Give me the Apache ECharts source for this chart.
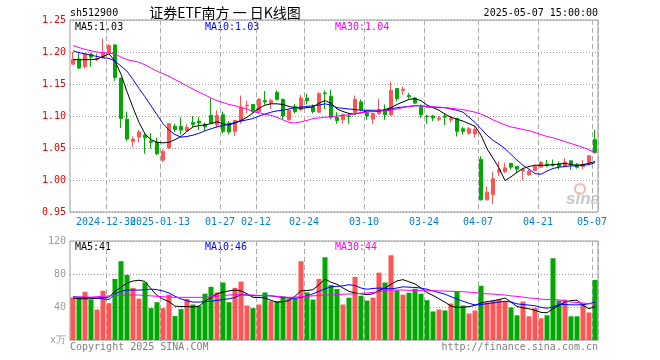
<!DOCTYPE html>
<html><head><meta charset="utf-8">
<script src="https://cdn.jsdelivr.net/npm/echarts@6/dist/echarts.min.js"></script>
<style>html,body{margin:0;padding:0;background:#fff}#c{width:660px;height:360px}</style>
</head><body><div id="c"></div>
<script>
const dates = ['2024-12-20','2024-12-23','2024-12-24','2024-12-25','2024-12-26','2024-12-27','2024-12-30','2024-12-31',
'2025-01-02','2025-01-03','2025-01-06','2025-01-07','2025-01-08','2025-01-09','2025-01-10','2025-01-13','2025-01-14','2025-01-15','2025-01-16','2025-01-17','2025-01-20','2025-01-21','2025-01-22','2025-01-23','2025-01-24','2025-01-27',
'2025-02-05','2025-02-06','2025-02-07','2025-02-10','2025-02-11','2025-02-12','2025-02-13','2025-02-14','2025-02-17','2025-02-18','2025-02-19','2025-02-20','2025-02-21','2025-02-24','2025-02-25','2025-02-26','2025-02-27','2025-02-28',
'2025-03-03','2025-03-04','2025-03-05','2025-03-06','2025-03-07','2025-03-10','2025-03-11','2025-03-12','2025-03-13','2025-03-14','2025-03-17','2025-03-18','2025-03-19','2025-03-20','2025-03-21','2025-03-24','2025-03-25','2025-03-26','2025-03-27','2025-03-28','2025-03-31',
'2025-04-01','2025-04-02','2025-04-03','2025-04-07','2025-04-08','2025-04-09','2025-04-10','2025-04-11','2025-04-14','2025-04-15','2025-04-16','2025-04-17','2025-04-18','2025-04-21','2025-04-22','2025-04-23','2025-04-24','2025-04-25','2025-04-28','2025-04-29','2025-04-30',
'2025-05-06','2025-05-07'];
const tickLabels = {'2024-12-30':'2024-12-30','2025-01-13':'2025-01-13','2025-01-27':'01-27','2025-02-12':'02-12','2025-02-24':'02-24','2025-03-10':'03-10','2025-03-24':'03-24','2025-04-07':'04-07','2025-04-21':'04-21','2025-05-07':'05-07'};
const opens = [1.181,1.189,1.177,1.197,1.188,1.191,1.199,1.211,1.159,1.095,
1.060,1.067,1.070,1.061,1.059,1.031,1.050,1.084,1.084,1.077,
1.090,1.092,1.087,1.101,1.086,1.102,1.089,1.076,1.092,1.116,
1.118,1.107,1.124,1.120,1.137,1.126,1.094,1.115,1.110,1.128,
1.114,1.106,1.136,1.131,1.098,1.094,1.100,1.105,1.122,1.105,
1.095,1.104,1.110,1.102,1.143,1.140,1.132,1.128,1.114,1.100,
1.100,1.095,1.100,1.094,1.096,1.080,1.073,1.072,1.032,0.969,
0.977,1.012,1.013,1.026,1.021,1.014,1.008,1.015,1.020,1.025,
1.0245,1.025,1.021,1.030,1.0245,1.021,1.027,1.063];
const closes = [1.188,1.175,1.197,1.192,1.190,1.199,1.210,1.160,1.096,1.064,
1.064,1.075,1.066,1.059,1.041,1.045,1.088,1.079,1.078,1.082,
1.087,1.089,1.083,1.089,1.101,1.076,1.075,1.093,1.114,1.117,
1.107,1.126,1.122,1.124,1.126,1.100,1.109,1.107,1.128,1.124,
1.107,1.135,1.135,1.098,1.093,1.102,1.099,1.126,1.110,1.100,
1.104,1.110,1.102,1.140,1.127,1.142,1.130,1.120,1.102,1.099,
1.097,1.097,1.098,1.096,1.076,1.076,1.080,1.079,0.969,0.981,
1.002,1.016,1.019,1.020,1.017,1.016,1.014,1.021,1.028,1.023,
1.023,1.021,1.028,1.0245,1.020,1.0245,1.038,1.043];
const lows = [1.180,1.173,1.174,1.177,1.186,1.190,1.197,1.155,1.081,1.061,
1.052,1.059,1.041,1.049,1.039,1.028,1.049,1.075,1.071,1.075,
1.083,1.078,1.077,1.088,1.082,1.073,1.071,1.069,1.088,1.104,
1.105,1.104,1.118,1.111,1.124,1.095,1.093,1.104,1.107,1.118,
1.104,1.105,1.111,1.095,1.088,1.088,1.088,1.102,1.107,1.094,
1.088,1.102,1.094,1.100,1.123,1.133,1.127,1.119,1.097,1.088,
1.092,1.092,1.086,1.090,1.068,1.071,1.071,1.066,0.968,0.968,
0.9625,1.006,1.011,1.016,1.011,1.000,1.007,1.0135,1.020,1.020,
1.021,1.017,1.020,1.016,1.018,1.017,1.025,1.041];
const highs = [1.200,1.200,1.198,1.198,1.198,1.221,1.212,1.212,1.160,1.107,
1.068,1.078,1.073,1.073,1.066,1.048,1.089,1.088,1.098,1.087,
1.100,1.098,1.090,1.128,1.109,1.107,1.092,1.094,1.132,1.124,
1.119,1.128,1.139,1.127,1.140,1.127,1.111,1.119,1.133,1.135,
1.118,1.137,1.140,1.141,1.106,1.104,1.104,1.132,1.126,1.107,
1.105,1.127,1.118,1.154,1.144,1.146,1.136,1.130,1.118,1.102,
1.102,1.100,1.104,1.100,1.097,1.083,1.083,1.084,1.037,0.990,
1.0125,1.029,1.027,1.026,1.022,1.019,1.016,1.024,1.029,1.031,
1.032,1.029,1.034,1.030,1.0265,1.031,1.0385,1.079];
const ma5 = [1.188,1.188,1.188,1.188,1.189,1.193,1.197,1.186,1.165,1.138,
1.113,1.090,1.072,1.063,1.059,1.058,1.059,1.063,1.068,1.076,
1.083,1.085,1.086,1.088,1.091,1.088,1.086,1.089,1.093,1.098,
1.105,1.112,1.117,1.119,1.119,1.118,1.115,1.113,1.112,1.113,
1.114,1.120,1.124,1.120,1.111,1.107,1.104,1.103,1.105,1.108,
1.107,1.107,1.110,1.113,1.118,1.122,1.126,1.127,1.124,1.117,
1.113,1.109,1.103,1.098,1.095,1.092,1.088,1.084,1.070,1.049,
1.034,1.019,0.999,1.005,1.012,1.018,1.021,1.023,1.023,1.023,
1.024,1.025,1.026,1.024,1.023,1.024,1.026,1.029];
const ma10 = [1.202,1.199,1.197,1.195,1.193,1.191,1.190,1.186,1.178,1.170,
1.157,1.143,1.130,1.116,1.102,1.088,1.078,1.071,1.067,1.068,
1.070,1.073,1.077,1.080,1.083,1.085,1.087,1.090,1.092,1.094,
1.096,1.100,1.103,1.106,1.108,1.109,1.111,1.113,1.114,1.115,
1.116,1.117,1.119,1.117,1.113,1.112,1.111,1.110,1.109,1.109,
1.109,1.109,1.109,1.111,1.113,1.114,1.115,1.116,1.116,1.114,
1.114,1.113,1.113,1.111,1.109,1.106,1.098,1.090,1.080,1.070,
1.062,1.056,1.049,1.040,1.031,1.023,1.017,1.010,1.009,1.014,
1.018,1.020,1.021,1.022,1.022,1.023,1.024,1.027];
const ma30 = [1.210,1.207,1.204,1.202,1.200,1.199,1.198,1.197,1.192,1.188,
1.186,1.184,1.180,1.175,1.170,1.166,1.162,1.157,1.152,1.147,
1.142,1.137,1.133,1.128,1.124,1.121,1.118,1.116,1.113,1.111,
1.107,1.105,1.103,1.101,1.098,1.094,1.090,1.089,1.091,1.093,
1.096,1.097,1.098,1.099,1.100,1.101,1.102,1.104,1.105,1.106,
1.107,1.108,1.108,1.109,1.111,1.113,1.115,1.116,1.116,1.115,
1.114,1.114,1.113,1.112,1.111,1.110,1.108,1.106,1.103,1.099,
1.094,1.090,1.086,1.083,1.081,1.079,1.077,1.074,1.071,1.068,
1.066,1.063,1.060,1.057,1.054,1.051,1.047,1.043];
const volumes = [51.7,51.7,58.5,49,37,59.7,44.6,74,95.5,78.8,
63.3,50.1,69.7,38.6,45.8,38.6,54.9,29,37.4,49.8,
43,41.4,56.1,64.5,57.7,69.7,45.8,63.3,70.8,41.8,
38.6,43,57.7,47,47,52.9,50.5,50.5,95.5,57.7,
49,74,100.3,66.5,61.7,43,51.3,76.4,53.7,47.8,
51.3,81.6,69.7,102.7,60.1,54.9,57.3,62.1,56.1,48.2,
34.6,37,35.8,44.2,58.9,41.8,32.2,35.8,65.7,45.4,
47.8,49,47,39.4,29.9,46.6,28.7,38.6,26.3,29.9,
99.1,47.8,49,28.7,28.7,44.2,33.4,72.8];
const volMa5 = [51,50,50,50,50.5,51.5,52,59,64,69,
71.5,72.5,71,62,54,49.5,46.5,41,40.6,40.6,
40,41,47,51.5,56,58,59.5,60.5,59.5,56,
51.7,51.5,50.9,48,45.8,46.5,47.8,53,59.7,60,
61,67,74,70,67.5,63,59,57,56,55,
56,60,63,67.5,71.6,73.2,70.5,68,63,57.5,
54,50,45.8,41,39.5,39.8,40.5,42,45,46.5,
47.5,49,50.9,46,40.6,39,37.8,36,33.5,33,
38,41.8,46,47.8,48.3,42,38,40.6];
const volMa10 = [52.5,52,51.7,51.3,51,50,49,56,59,60.5,
60.5,60.5,61,61.7,61,59.5,57,53,49.8,47.5,
46,46,46.5,47,48,49,50,51.5,54.9,54.5,
53.7,53.7,53.7,53.5,52.5,51.5,51,50.5,51.5,53.5,
56,59,62,64.5,65,65.7,67,66,63,61.5,
62.5,62.9,62.5,62,63,64.5,64,63.7,63,61.5,
59.5,57.5,55.5,52.5,49.8,47,44.5,42.5,43,44,
45,46,47,46,43.8,43,42.3,41.5,39.5,38.5,
40,43,43,42.6,42.6,42.8,44,45.8];
const volMa30 = [52,52,52,52,52.5,53,53.5,54,54.5,54.5,
54.5,54.5,54,53.5,53,52.5,52,51.7,51.7,51.7,
51.7,51.7,51.7,52.5,53,54,54.5,55,54.5,54.5,
54.5,54,54,53.5,53,52,51.7,52,52.5,53,
53.5,54,54.5,54.5,55,55.5,55.7,56,56.5,57,
57.7,58.5,60,60.5,60.5,60.5,60.2,60,59.7,59.7,
59.7,59.5,59.3,59,58.9,58.5,58,57.5,56.5,56,
55.7,55,54.5,53.5,52.9,52,51,50.5,49.5,49,
49,48.5,47.5,46,45.5,44.8,44,43.8];

const UP = '#ff5555', DOWN = '#00a800';
const MONO = 'DejaVu Sans Mono';
const last = a => a[a.length - 1];
const labelDates = Object.keys(tickLabels);
const showIdx = i => tickLabels[dates[i]] !== undefined;
// labels alternate between two axis layers so adjacent overlapping labels both stay visible
const layerOf = i => labelDates.indexOf(dates[i]) % 2;

const chart = echarts.init(document.getElementById('c'), null, {renderer: 'canvas', width: 660, height: 360});

const candleData = dates.map((d, i) => [opens[i], closes[i], lows[i], highs[i]]);
const volData = volumes.map((v, i) => ({value: v, itemStyle: {color: closes[i] >= opens[i] ? UP : DOWN}}));

function xAxisCfg(gridIndex, opts) {
  return {
    type: 'category', gridIndex, data: dates, boundaryGap: true, position: 'bottom', offset: 0,
    axisLine: {show: false, onZero: false}, axisTick: {show: false},
    splitLine: {show: !!opts.split, interval: (i) => showIdx(i), lineStyle: {color: '#aaa', type: [5, 3], width: 1}},
    axisLabel: opts.layer !== undefined ? {
      show: true, interval: (i) => showIdx(i) && layerOf(i) === opts.layer, margin: 5, hideOverlap: false,
      formatter: v => '{a|' + (tickLabels[v] || '') + '}',
      rich: {a: {color: '#0480d0', fontFamily: MONO, fontSize: 10, padding: [0, 6, 0, 0]}}
    } : {show: false}
  };
}

const lineS = (name, data, color, xi, yi) => ({
  name, type: 'line', data, xAxisIndex: xi, yAxisIndex: yi, symbol: 'none', z: 4,
  lineStyle: {color, width: 1}, itemStyle: {color}, silent: true
});

const txt = (x, y, text, color, extra) => Object.assign({
  type: 'text', x, y, silent: true,
  style: Object.assign({text, fill: color, font: '10px "' + MONO + '"', verticalAlign: 'middle'}, extra || {})
});

chart.setOption({
  animation: false,
  backgroundColor: '#fff',
  grid: [
    {left: 70, top: 20, width: 528, height: 192, show: true, borderColor: '#999', borderWidth: 1, outerBoundsMode: 'none', containLabel: false},
    {left: 70, top: 241, width: 528, height: 99, show: true, borderColor: '#999', borderWidth: 1, outerBoundsMode: 'none', containLabel: false}
  ],
  xAxis: [
    xAxisCfg(0, {split: true, layer: 0}),
    xAxisCfg(1, {split: true}),
    xAxisCfg(0, {split: false, layer: 1})
  ],
  yAxis: [
    {type: 'value', gridIndex: 0, min: 0.95, max: 1.25, interval: 0.05,
     axisLine: {show: false}, axisTick: {show: false},
     axisLabel: {color: '#ee0000', fontFamily: MONO, fontSize: 10, margin: 4, formatter: v => v.toFixed(2)},
     splitLine: {show: true, lineStyle: {color: '#999', type: [1, 2], width: 1}}},
    {type: 'value', gridIndex: 1, min: 0, max: 120, interval: 40,
     axisLine: {show: false}, axisTick: {show: false},
     axisLabel: {color: '#999', fontFamily: MONO, fontSize: 10, margin: 4, formatter: v => v === 0 ? 'x万' : String(v)},
     splitLine: {show: true, lineStyle: {color: '#999', type: [1, 2], width: 1}}}
  ],
  series: [
    {type: 'candlestick', data: candleData, xAxisIndex: 0, yAxisIndex: 0, barWidth: 4, silent: true,
     itemStyle: {color: UP, color0: DOWN, borderColor: UP, borderColor0: DOWN, borderWidth: 1}},
    lineS('MA5', ma5, '#000000', 0, 0),
    lineS('MA10', ma10, '#0000ff', 0, 0),
    lineS('MA30', ma30, '#ff00ff', 0, 0),
    {type: 'bar', data: volData, xAxisIndex: 1, yAxisIndex: 1, barWidth: 5, silent: true},
    lineS('VMA5', volMa5, '#000000', 1, 1),
    lineS('VMA10', volMa10, '#0000ff', 1, 1),
    lineS('VMA30', volMa30, '#ff00ff', 1, 1)
  ],
  graphic: [
    txt(70, 13, 'sh512900', '#000'),
    {type: 'text', x: 225, y: 13, silent: true, style: {text: '证券ETF南方 一 日K线图', fill: '#000', font: '14px "Noto Sans CJK SC"', align: 'center', verticalAlign: 'middle'}},
    txt(598, 13, '2025-05-07 15:00:00', '#000', {align: 'right'}),
    txt(75, 27, 'MA5:' + last(ma5).toFixed(2), '#000'),
    txt(205, 27, 'MA10:' + last(ma10).toFixed(2), '#0000ff'),
    txt(335, 27, 'MA30:' + last(ma30).toFixed(2), '#ff00ff'),
    txt(75, 247, 'MA5:' + Math.round(last(volMa5)), '#000'),
    txt(205, 247, 'MA10:' + Math.round(last(volMa10)), '#0000ff'),
    txt(335, 247, 'MA30:' + Math.round(last(volMa30)), '#ff00ff'),
    txt(70, 347, 'Copyright 2025 SINA.COM', '#808080'),
    txt(598, 347, 'http://finance.sina.com.cn', '#808080', {align: 'right'}),
    {type: 'circle', silent: true, shape: {cx: 580, cy: 189, r: 5}, style: {fill: 'none', stroke: '#f2b8b8', lineWidth: 2}},
    {type: 'text', x: 566, y: 199, silent: true, style: {text: 'sina', fill: '#c8c8c8', font: 'italic bold 17px "Liberation Sans"', verticalAlign: 'middle'}}
  ]
});
</script>
</body></html>
